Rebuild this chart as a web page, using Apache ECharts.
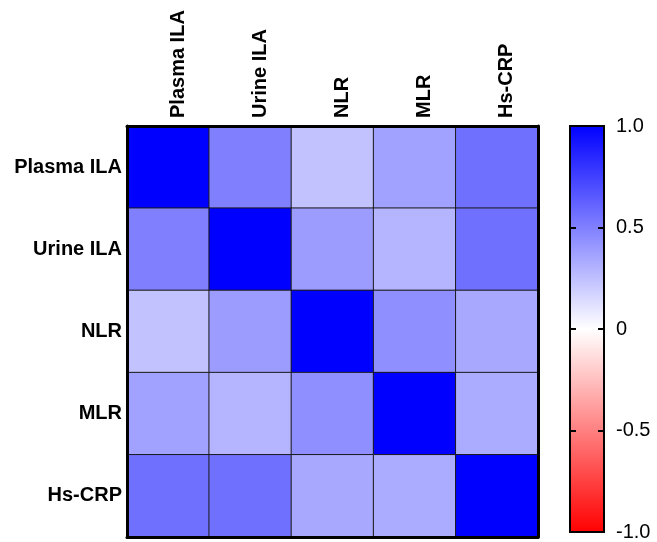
<!DOCTYPE html>
<html>
<head>
<meta charset="utf-8">
<script src="https://cdn.jsdelivr.net/npm/echarts@6/dist/echarts.min.js"></script>
<style>
  html, body { margin: 0; padding: 0; background: #fff; }
  #chart { width: 657px; height: 542px; }
</style>
</head>
<body>
<div id="chart"></div>
<script>
// Variables of the correlation matrix
const variables = ['Plasma ILA', 'Urine ILA', 'NLR', 'MLR', 'Hs-CRP'];

// Correlation coefficients, one row per variable
const rowPlasmaILA = [1.00, 0.50, 0.24, 0.37, 0.56];
const rowUrineILA  = [0.50, 1.00, 0.39, 0.29, 0.56];
const rowNLR       = [0.24, 0.39, 1.00, 0.44, 0.34];
const rowMLR       = [0.37, 0.29, 0.44, 1.00, 0.33];
const rowHsCRP     = [0.56, 0.56, 0.34, 0.33, 1.00];
const matrixRows = [rowPlasmaILA, rowUrineILA, rowNLR, rowMLR, rowHsCRP];

// Colour scale range and its tick labels
const scaleMin = -1;
const scaleMax = 1;
const scaleTickValues = [-1, -0.5, 0, 0.5, 1];
const scaleTickLabels = ['-1.0', '-0.5', '0', '0.5', '1.0'];

const heatData = [];
matrixRows.forEach((row, yi) => {
  row.forEach((v, xi) => heatData.push([xi, yi, v]));
});

const chart = echarts.init(document.getElementById('chart'), null, { renderer: 'canvas' });

const catFont = { fontFamily: 'Arial, "Liberation Sans", sans-serif', fontWeight: 'bold', fontSize: 20, color: '#000' };
const frameLine = { show: true, lineStyle: { color: '#000', width: 3 } };

chart.setOption({
  backgroundColor: '#fff',
  animation: false,
  grid: [
    { left: 127, top: 126, width: 411, height: 411 },
    {
      left: 570, top: 126, width: 34, height: 411, show: true,
      borderColor: '#000', borderWidth: 2,
      backgroundColor: new echarts.graphic.LinearGradient(0, 0, 0, 1, [
        { offset: 0, color: '#0000ff' },
        { offset: 0.5, color: '#ffffff' },
        { offset: 1, color: '#ff0000' }
      ])
    }
  ],
  xAxis: [
    {
      gridIndex: 0, type: 'category', data: variables, position: 'top', z: 5,
      axisLine: frameLine, axisTick: { show: false }, splitLine: { show: false },
      axisLabel: Object.assign({ rotate: -90, margin: 8, verticalAlign: 'top' }, catFont)
    },
    {
      gridIndex: 0, type: 'category', data: variables, position: 'bottom', z: 5,
      axisLine: frameLine, axisTick: { show: false }, axisLabel: { show: false }
    },
    {
      gridIndex: 1, type: 'value', show: false
    }
  ],
  yAxis: [
    {
      gridIndex: 0, type: 'category', data: variables, inverse: true, position: 'left', z: 5,
      axisLine: frameLine, axisTick: { show: false }, splitLine: { show: false },
      axisLabel: Object.assign({ margin: 5 }, catFont)
    },
    {
      gridIndex: 0, type: 'category', data: variables, inverse: true, position: 'right', z: 5,
      axisLine: frameLine, axisTick: { show: false }, axisLabel: { show: false }
    },
    {
      gridIndex: 1, type: 'value', min: scaleMin, max: scaleMax, interval: 0.5, position: 'left', z: 5,
      axisLine: { show: false }, splitLine: { show: false }, axisLabel: { show: false },
      axisTick: { show: true, inside: true, length: 6, lineStyle: { color: '#000', width: 2 } }
    },
    {
      gridIndex: 1, type: 'value', min: scaleMin, max: scaleMax, interval: 0.5, position: 'right', z: 5,
      axisLine: { show: false }, splitLine: { show: false },
      axisTick: { show: true, inside: true, length: 6, lineStyle: { color: '#000', width: 2 } },
      axisLabel: {
        margin: 12, fontSize: 20, color: '#000',
        fontFamily: 'Arial, "Liberation Sans", sans-serif',
        formatter: v => {
          const i = scaleTickValues.findIndex(t => Math.abs(t - v) < 1e-9);
          return i >= 0 ? scaleTickLabels[i] : '';
        }
      }
    }
  ],
  visualMap: {
    show: false, type: 'continuous', seriesIndex: 0,
    min: scaleMin, max: scaleMax,
    inRange: { color: ['#ff0000', '#ffffff', '#0000ff'] }
  },
  series: [
    {
      type: 'heatmap', xAxisIndex: 0, yAxisIndex: 0, data: heatData,
      itemStyle: { borderColor: '#1a1a1a', borderWidth: 1 },
      emphasis: { disabled: true }
    }
  ]
});
</script>
</body>
</html>
